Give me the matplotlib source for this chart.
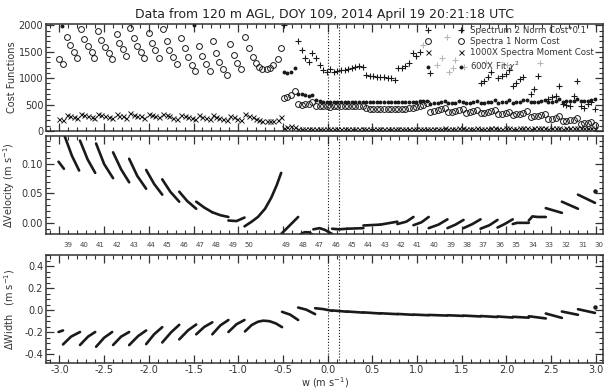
import numpy as np
import matplotlib
matplotlib.use('Agg')
import matplotlib.pyplot as plt
import matplotlib.transforms as mtransforms
from matplotlib.ticker import MultipleLocator, FormatStrFormatter

nan = np.nan

# ---- cost functions, w < -0.5 (segments of the left branch) ----
w_left = [-3.01, -2.96, -2.92, -2.88, -2.84, -2.80, -2.76, -2.73, -2.68, -2.64,
          -2.61, -2.57, -2.53, -2.49, -2.45, -2.41, -2.36, -2.33, -2.29, -2.25,
          -2.21, -2.17, -2.13, -2.09, -2.05, -2.00, -1.97, -1.93, -1.89, -1.84,
          -1.80, -1.77, -1.73, -1.69, -1.64, -1.60, -1.56, -1.52, -1.48, -1.44,
          -1.41, -1.36, -1.32, -1.28, -1.25, -1.21, -1.17, -1.13, -1.09, -1.05,
          -1.01, -0.97, -0.93, -0.88, -0.84, -0.80, -0.765, -0.73, -0.68, -0.645,
          -0.61, -0.56, -0.52]
spec1_left = [1364, 1271, 1776, 1626, 1502, 1389, 1938, 1751, 1614, 1489,
              1389, 1888, 1720, 1595, 1470, 1364, 1832, 1676, 1546, 1421,
              1957, 1763, 1614, 1489, 1377, 1857, 1670, 1533, 1389, 1925,
              1713, 1539, 1396, 1271, 1763, 1564, 1396, 1252, 1140, 1607,
              1421, 1265, 1140, 1707, 1483, 1315, 1171, 1053, 1639, 1439,
              1283, 1171, 1782, 1576, 1408, 1296, 1221, 1178, 1171, 1190,
              1252, 1364, 1564]
moment_left = [220, 200, 300, 280, 265, 250, 330, 300, 285, 270,
               250, 320, 295, 280, 265, 245, 320, 290, 275, 255,
               340, 310, 290, 275, 250, 330, 300, 280, 260, 320,
               295, 275, 255, 230, 310, 285, 265, 245, 225, 300,
               270, 250, 230, 295, 265, 245, 225, 200, 290, 260,
               235, 210, 318, 287, 256, 224, 206, 193, 181, 181,
               193, 215, 260]
chi_left_w = [-2.97, -1.49]
chi_left = [1987, 2000]

# ---- cost functions, w > -0.5 ----
w_right = [-0.49, -0.45, -0.41, -0.37, -0.33, -0.29, -0.25, -0.21, -0.17, -0.13,
           -0.09, -0.05, -0.01, 0.03, 0.07, 0.11, 0.15, 0.19, 0.23, 0.27,
           0.31, 0.35, 0.39, 0.43, 0.47, 0.51, 0.55, 0.59, 0.63, 0.67,
           0.71, 0.75, 0.79, 0.83, 0.87, 0.91, 0.95, 0.99, 1.03, 1.07,
           1.11, 1.15, 1.19, 1.23, 1.27, 1.31, 1.35, 1.39, 1.43, 1.47,
           1.51, 1.55, 1.59, 1.63, 1.67, 1.71, 1.75, 1.79, 1.83, 1.87,
           1.91, 1.95, 1.99, 2.03, 2.07, 2.11, 2.15, 2.19, 2.23, 2.27,
           2.31, 2.35, 2.39, 2.43, 2.47, 2.51, 2.55, 2.59, 2.63, 2.67,
           2.71, 2.75, 2.79, 2.83, 2.87, 2.91, 2.95, 2.99]
spec2_right = [2000, nan, nan, nan, 1707, 1533, 1377, 1315, 1470, 1377,
               1252, 1159, 1127, 1171, 1127, 1130, 1150, 1165, 1175, 1190,
               1210, 1230, 1215, 1065, 1047, 1040, 1030, 1022, 1016, 1010,
               1003, 975, 1190, 1200, 1230, 1290, 1470, 1420, 1500, nan,
               nan, 1100, nan, nan, nan, nan, nan, nan, nan, nan,
               nan, nan, nan, nan, nan, 910, 953, 1022, 1115, nan,
               1003, 1047, 1078, 1159, 860, 910, 985, 1022, nan, 710,
               804, 1034, nan, nan, 598, 640, 660, 847, 505, 500,
               480, 660, 940, 480, 430, 505, 550, 410]
spec1_right = [617, 641, 673, 766, 510, 500, 505, 520, 540, 470,
               465, 470, 470, 460, 465, 470, 470, 470, 470, 470,
               470, 465, 465, 430, 425, 425, 420, 420, 420, 420,
               420, 420, 420, 425, 425, 430, 440, 450, 480, 500,
               535, 360, 375, 395, 410, 440, 360, 365, 380, 390,
               420, 350, 360, 370, 390, 340, 350, 360, 370, 400,
               320, 330, 345, 360, 310, 320, 330, 340, 370, 270,
               280, 290, 300, 330, 230, 235, 245, 290, 185, 190,
               200, 215, 250, 140, 150, 160, 175, 120]
moment_right = [60, 75, 90, 80, 40, 35, 40, 38, 42, 35,
                30, 35, 32, 30, 35, 38, 32, 30, 35, 32,
                30, 35, 38, 32, 30, 35, 32, 30, 35, 38,
                32, 30, 35, 38, 32, 30, 35, 38, 32, 35,
                40, 35, 38, 40, 45, 50, 35, 40, 42, 48,
                52, 38, 40, 45, 50, 38, 42, 45, 50, 55,
                40, 45, 48, 55, 40, 45, 50, 55, 60, 42,
                48, 52, 58, 62, 45, 50, 55, 62, 45, 50,
                55, 60, 65, 48, 52, 58, 62, 35]
chi_right = [1127, 1097, 1109, 1190, 710, 692, 673, 660, 673, 580,
             560, 555, 550, 548, 545, 545, 545, 545, 545, 545,
             545, 545, 548, 545, 545, 545, 545, 545, 545, 545,
             545, 545, 545, 545, 548, 550, 550, 555, 560, 565,
             575, 520, 530, 535, 540, 575, 525, 530, 535, 575,
             540, 525, 530, 540, 575, 525, 530, 540, 545, 580,
             530, 540, 545, 580, 535, 545, 550, 585, 590, 540,
             545, 555, 560, 590, 545, 555, 560, 600, 550, 560,
             565, 575, 610, 560, 565, 575, 590, 600]
gray_w = [1.07, 1.22, 1.28, 1.33, 1.36, 1.40, 1.43, 1.52, 1.77, 2.01, 2.38]
gray_cost = [1626, 1252, 1390, 1782, 1127, 1190, 1346, 1221, 1283, 1252, 1283]

# ---- delta velocity, one list per fitted segment ----
vel_w = [[-3.01, -2.95], [-2.94, -2.86, -2.78], [-2.77, -2.685, -2.60],
         [-2.59, -2.50, -2.40], [-2.40, -2.31, -2.22], [-2.22, -2.13, -2.03],
         [-2.03, -1.94, -1.85], [-1.85, -1.76, -1.66], [-1.66, -1.57, -1.47],
         [-1.47, -1.38, -1.29], [-1.29, -1.20, -1.11], [-1.11, -1.02, -0.93],
         [-0.93, -0.85, -0.78, -0.70, -0.63, -0.57, -0.52],
         [-0.52, -0.33], [-0.31, -0.26, -0.21, -0.16], [-0.16, -0.09, -0.03, 0.05],
         [0.05, 0.13, 0.22], [0.22, 0.40], [0.40, 0.59], [0.59, 0.78],
         [0.78, 0.88, 0.96], [0.96, 1.05, 1.13], [1.13, 1.24, 1.34],
         [1.34, 1.43, 1.52], [1.52, 1.62, 1.71], [1.71, 1.81, 1.90],
         [1.90, 1.98, 2.07], [2.07, 2.12, 2.25], [2.25, 2.29, 2.35, 2.44],
         [2.44, 2.62], [2.62, 2.80], [2.80, 2.99], [2.99]]
vel_d = [[0.104, 0.092], [0.147, 0.114, 0.089], [0.140, 0.108, 0.085],
         [0.135, 0.100, 0.076], [0.120, 0.091, 0.069], [0.109, 0.080, 0.058],
         [0.090, 0.066, 0.048], [0.074, 0.053, 0.036], [0.053, 0.037, 0.024],
         [0.036, 0.026, 0.018], [0.018, 0.013, 0.010], [0.004, 0.003, 0.009],
         [-0.006, 0.002, 0.010, 0.024, 0.043, 0.064, 0.085],
         [-0.019, 0.010], [-0.020, -0.016, -0.016, -0.021], [-0.011, -0.009, -0.012, -0.019],
         [-0.010, -0.011, -0.010], [-0.010, -0.009], [-0.0045, -0.003], [-0.003, 0.002],
         [-0.002, 0.002, 0.010], [-0.004, 0.001, 0.010], [-0.009, -0.003, 0.006],
         [-0.009, -0.003, 0.005], [-0.009, -0.002, 0.006], [-0.010, -0.004, 0.005],
         [-0.008, -0.002, 0.006], [-0.002, 0.000, 0.000], [0.004, 0.011, 0.010, 0.010],
         [0.025, 0.017], [0.036, 0.024], [0.048, 0.034], [0.055]]

# ---- delta width, one list per fitted segment ----
wid_w = [[-3.01, -2.96], [-2.96, -2.87, -2.77], [-2.77, -2.68, -2.60],
         [-2.59, -2.50, -2.41], [-2.40, -2.31, -2.22], [-2.22, -2.12, -2.03],
         [-2.03, -1.94, -1.85], [-1.85, -1.75, -1.66], [-1.66, -1.56, -1.47],
         [-1.47, -1.38, -1.29], [-1.29, -1.20, -1.11], [-1.11, -1.02, -0.93],
         [-0.925, -0.85, -0.78, -0.72, -0.65, -0.58, -0.51],
         [-0.51, -0.42, -0.33], [-0.33, -0.24, -0.14], [-0.14, -0.05, 0.05],
         [0.05, 0.22], [0.22, 0.40], [0.40, 0.59], [0.59, 0.78], [0.78, 0.96],
         [0.96, 1.13], [1.13, 1.34], [1.34, 1.52], [1.52, 1.71], [1.71, 1.90],
         [1.90, 2.07], [2.07, 2.25], [2.25, 2.44], [2.44, 2.62], [2.62, 2.80],
         [2.80, 2.99], [2.99]]
wid_d = [[-0.198, -0.184], [-0.311, -0.240, -0.198], [-0.316, -0.240, -0.198],
         [-0.332, -0.250, -0.198], [-0.316, -0.240, -0.198], [-0.317, -0.235, -0.184],
         [-0.308, -0.218, -0.154], [-0.293, -0.200, -0.133], [-0.265, -0.182, -0.130],
         [-0.219, -0.152, -0.110], [-0.219, -0.138, -0.089], [-0.198, -0.128, -0.089],
         [-0.193, -0.135, -0.105, -0.095, -0.100, -0.120, -0.154],
         [-0.015, -0.040, -0.089], [0.024, 0.005, -0.036], [0.018, 0.010, -0.006],
         [-0.002, -0.014], [-0.012, -0.022], [-0.020, -0.030], [-0.028, -0.036],
         [-0.034, -0.042], [-0.040, -0.046], [-0.043, -0.049], [-0.046, -0.052],
         [-0.049, -0.057], [-0.053, -0.062], [-0.057, -0.067], [-0.060, -0.068],
         [-0.055, -0.075], [-0.030, -0.070], [-0.012, -0.042], [0.009, -0.025],
         [0.030]]

# iteration counts written under the velocity panel
iter_w = [-2.91, -2.72, -2.54, -2.36, -2.17, -1.98, -1.80, -1.61, -1.43, -1.25,
          -1.06, -0.88, -0.47, -0.27, -0.10, 0.10, 0.27, 0.45, 0.64, 0.82,
          1.00, 1.19, 1.38, 1.56, 1.74, 1.93, 2.11, 2.30, 2.48, 2.67, 2.85, 3.03]
iter_n = ['39', '40', '41', '42', '43', '44', '45', '46', '47', '48', '49', '50',
          '49', '48', '47', '46', '45', '44', '43', '42', '41', '40', '39', '38',
          '37', '36', '35', '34', '33', '32', '31', '30']

dotted_w = [0.0, 0.13]

plt.rcParams['font.family'] = 'DejaVu Sans'
plt.rcParams['mathtext.fontset'] = 'dejavusans'
plt.rcParams['axes.unicode_minus'] = False

fig = plt.figure(figsize=(6.08, 3.91), dpi=100)
ax1 = fig.add_axes([0.0757, 0.665, 0.9161, 0.274])
ax2 = fig.add_axes([0.0757, 0.4015, 0.9161, 0.251])
ax3 = fig.add_axes([0.0757, 0.0715, 0.9161, 0.276])

ink = '#1a1a1a'


def style(ax, ymaj, ymin, ylim):
    ax.set_xlim(-3.15, 3.08)
    ax.set_ylim(*ylim)
    ax.xaxis.set_major_locator(MultipleLocator(0.5))
    ax.xaxis.set_minor_locator(MultipleLocator(0.1))
    ax.yaxis.set_major_locator(MultipleLocator(ymaj))
    ax.yaxis.set_minor_locator(MultipleLocator(ymin))
    ax.tick_params(which='both', direction='in', top=True, right=True,
                   color='#333333', labelsize=7, labelcolor='#333333', pad=2)
    ax.tick_params(which='major', length=6, width=0.9)
    ax.tick_params(which='minor', length=3, width=0.8)
    for s in ax.spines.values():
        s.set_linewidth(1.1)
        s.set_color('#333333')
    for x0 in dotted_w:
        ax.axvline(x0, color=ink, ls=':', lw=0.8)
    ax.yaxis.set_label_coords(-0.052, 0.5)


style(ax1, 500, 100, (0, 2030))
style(ax2, 0.05, 0.01, (-0.019, 0.148))
style(ax3, 0.2, 0.05, (-0.48, 0.5))
ax1.tick_params(labelbottom=False)
ax2.tick_params(labelbottom=False)
ax3.tick_params(axis='x', pad=1.5)
ax2.yaxis.set_major_formatter(FormatStrFormatter('%.2f'))
ax3.yaxis.set_major_formatter(FormatStrFormatter('%.1f'))
ax3.xaxis.set_major_formatter(FormatStrFormatter('%.1f'))

# top panel: cost functions
w_all = np.concatenate([w_left, w_right])
ax1.plot(gray_w, gray_cost, ls='none', marker='+', ms=5, mew=0.8, color='#b8b8b8')
h_s1, = ax1.plot(w_all, np.concatenate([spec1_left, spec1_right]), ls='none',
                 marker='o', ms=4.2, mfc='none', mec=ink, mew=0.7)
h_mom, = ax1.plot(w_all, np.concatenate([moment_left, moment_right]), ls='none',
                  marker='x', ms=3.6, mew=0.7, color=ink)
h_s2, = ax1.plot(w_right, spec2_right, ls='none', marker='+', ms=5, mew=0.8, color=ink)
h_chi, = ax1.plot(np.concatenate([chi_left_w, w_right]),
                  np.concatenate([chi_left, chi_right]), ls='none',
                  marker='o', ms=1.8, color=ink)
ax1.set_ylabel('Cost Functions', fontsize=7, color='#333333')
ax1.set_title('Data from 120 m AGL, DOY 109, 2014 April 19 20:21:18 UTC',
              fontsize=9, color='#222222', pad=4)
leg = ax1.legend([h_s2, h_s1, h_mom, h_chi],
                 ['Spectrum 2 Norm Cost*0.1', 'Spectra 1 Norm Cost',
                  '1000X Spectra Moment Cost', r'600X Fit $\chi^2$'],
                 loc='upper left', bbox_to_anchor=(0.676, 1.0), frameon=False,
                 numpoints=2, handlelength=4.5, handletextpad=0.75,
                 labelspacing=0.22, fontsize=6.2, borderaxespad=0, borderpad=0.3)
for t in leg.get_texts():
    t.set_color('#333333')

# middle panel: delta velocity
for xs, ys in zip(vel_w, vel_d):
    if len(xs) == 1:
        ax2.plot(xs, ys, ls='none', marker='o', ms=2.2, color=ink)
    else:
        ax2.plot(xs, ys, color=ink, lw=1.9, solid_capstyle='round')
ax2.set_ylabel('ΔVelocity (m s$^{-1}$)', fontsize=7, color='#333333')
trans = mtransforms.blended_transform_factory(ax2.transData, ax2.transAxes)
for x0, lab in zip(iter_w, iter_n):
    ax2.text(x0, -0.112, lab, transform=trans, fontsize=5, ha='center',
             va='center', color='#444444')

# bottom panel: delta width
for xs, ys in zip(wid_w, wid_d):
    if len(xs) == 1:
        ax3.plot(xs, ys, ls='none', marker='o', ms=2.2, color=ink)
    else:
        ax3.plot(xs, ys, color=ink, lw=1.9, solid_capstyle='round')
ax3.set_ylabel('ΔWidth   (m s$^{-1}$)', fontsize=7, color='#333333')
ax3.set_xlabel('w (m s$^{-1}$)', fontsize=7, color='#333333', labelpad=0)

fig.savefig('out.png', dpi=100)
